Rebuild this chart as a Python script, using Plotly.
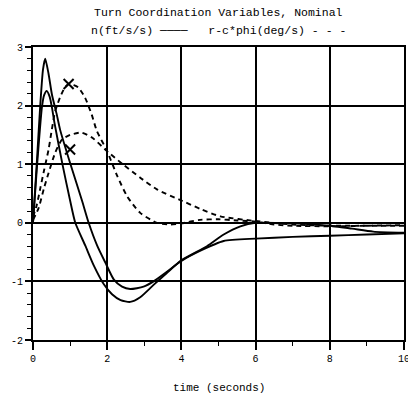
import plotly.graph_objects as go

# ---- data ----
t_n1 = [0.0, 0.1, 0.2, 0.27, 0.33, 0.42, 0.51, 0.64, 0.73, 1.0, 1.32, 1.5, 1.73, 1.95, 2.18, 2.4, 2.62, 2.98, 3.25, 3.6, 4.0, 4.5, 5.14, 6.0, 7.0, 8.0, 9.0, 10.0]
n1 = [0.0, 1.0, 2.05, 2.62, 2.8, 2.54, 2.19, 1.85, 1.59, 1.02, 0.38, 0.0, -0.39, -0.68, -0.97, -1.09, -1.13, -1.09, -1.0, -0.84, -0.65, -0.48, -0.31, -0.27, -0.24, -0.22, -0.2, -0.18]

t_n2 = [0.0, 0.1, 0.24, 0.3, 0.37, 0.45, 0.51, 0.58, 0.8, 1.0, 1.14, 1.41, 1.64, 1.91, 2.13, 2.36, 2.62, 2.89, 3.25, 3.6, 4.0, 4.69, 5.14, 5.59, 6.0, 7.0, 8.0, 8.6, 9.17, 10.0]
n2 = [0.0, 0.9, 1.97, 2.18, 2.25, 2.15, 1.97, 1.7, 0.98, 0.38, 0.0, -0.39, -0.73, -1.05, -1.22, -1.32, -1.35, -1.27, -1.06, -0.86, -0.64, -0.4, -0.2, -0.06, 0.0, -0.01, -0.05, -0.1, -0.15, -0.17]

t_r1 = [0.0, 0.1, 0.2, 0.3, 0.42, 0.51, 0.6, 0.73, 0.85, 0.96, 1.1, 1.22, 1.4, 1.58, 1.72, 2.0, 2.27, 2.54, 2.89, 3.34, 3.7, 4.0, 4.5, 5.0, 5.5, 6.0, 6.5, 7.0, 8.0, 9.0, 10.0]
r1 = [0.1, 0.3, 0.6, 0.9, 1.25, 1.6, 1.91, 2.14, 2.3, 2.37, 2.35, 2.31, 2.14, 1.85, 1.57, 1.22, 0.8, 0.45, 0.17, 0.0, -0.03, -0.01, 0.05, 0.06, 0.04, 0.02, -0.03, -0.05, -0.06, -0.05, -0.04]

t_r2 = [0.0, 0.15, 0.3, 0.42, 0.6, 0.78, 1.0, 1.3, 1.6, 2.0, 2.44, 2.89, 3.34, 3.93, 4.5, 5.05, 6.0, 7.0, 8.0, 10.0]
r2 = [0.05, 0.25, 0.6, 0.85, 1.2, 1.42, 1.5, 1.54, 1.45, 1.22, 0.99, 0.77, 0.57, 0.4, 0.24, 0.11, 0.03, -0.03, -0.05, -0.05]

mark_t = [0.96, 1.0]
mark_v = [2.37, 1.25]

title_text = "Turn Coordination Variables, Nominal"
legend_text = "n(ft/s/s) \u2500\u2500\u2500\u2500   r-c*phi(deg/s) - - -"
x_title = "time (seconds)"
x_ticks = [0, 2, 4, 6, 8, 10]
y_ticks = [-2, -1, 0, 1, 2, 3]

FONT = "Liberation Mono, DejaVu Sans Mono, Courier New, monospace"

fig = go.Figure()
solid = dict(color="black", width=1.9, shape="spline", smoothing=0.6)
dashed = dict(color="black", width=1.9, dash="5px,4px", shape="spline", smoothing=0.6)
fig.add_trace(go.Scatter(x=t_n1, y=n1, mode="lines", line=solid, showlegend=False))
fig.add_trace(go.Scatter(x=t_n2, y=n2, mode="lines", line=solid, showlegend=False))
fig.add_trace(go.Scatter(x=t_r1, y=r1, mode="lines", line=dashed, showlegend=False))
fig.add_trace(go.Scatter(x=t_r2, y=r2, mode="lines", line=dashed, showlegend=False))
fig.add_trace(go.Scatter(x=mark_t, y=mark_v, mode="markers",
                         marker=dict(symbol="x-thin", size=10, line=dict(width=2, color="black")),
                         showlegend=False))

fig.update_layout(
    width=408, height=397,
    margin=dict(l=33, r=4, t=47, b=57, autoexpand=False),
    paper_bgcolor="white", plot_bgcolor="white",
    font=dict(family=FONT, size=10, color="black"),
    showlegend=False,
    annotations=[
        dict(text=title_text, xref="paper", yref="paper", x=0.5, y=1.0, yshift=35,
             showarrow=False, font=dict(family=FONT, size=11.5, color="black"),
             xanchor="center", yanchor="middle"),
        dict(text=legend_text, xref="paper", yref="paper", x=0.5, y=1.0, yshift=17,
             showarrow=False, font=dict(family=FONT, size=11.5, color="black"),
             xanchor="center", yanchor="middle"),
        dict(text=x_title, xref="paper", yref="paper", x=0.5, y=0.0, yshift=-48,
             showarrow=False, font=dict(family=FONT, size=11, color="black"),
             xanchor="center", yanchor="middle"),
    ],
)
fig.update_xaxes(
    range=[0, 10], tickvals=x_ticks, ticktext=[str(v) for v in x_ticks],
    automargin=False, ticklabeloverflow="allow",
    showgrid=True, gridcolor="black", gridwidth=1.5,
    showline=True, linecolor="black", linewidth=1.8, mirror=True,
    ticks="outside", ticklen=8, tickwidth=1.5, tickcolor="black",
    minor=dict(dtick=1, tick0=0, ticks="outside", ticklen=4, tickwidth=1.2, tickcolor="black", showgrid=False),
    zeroline=False,
    tickfont=dict(family=FONT, size=10),
)
fig.update_yaxes(
    range=[-2, 3], tickvals=y_ticks, ticktext=[str(v) for v in y_ticks],
    automargin=False,
    showgrid=True, gridcolor="black", gridwidth=1.5,
    showline=True, linecolor="black", linewidth=1.8, mirror=True,
    ticks="outside", ticklen=6, tickwidth=1.5, tickcolor="black",
    minor=dict(dtick=0.2, tick0=0, ticks="outside", ticklen=4, tickwidth=1.2, tickcolor="black", showgrid=False),
    zeroline=True, zerolinecolor="black", zerolinewidth=1.8,
    tickfont=dict(family=FONT, size=10),
)

fig.write_html("out.html", config={"displayModeBar": False},
               post_script="document.body.style.margin='0px';document.body.style.overflow='hidden';")
